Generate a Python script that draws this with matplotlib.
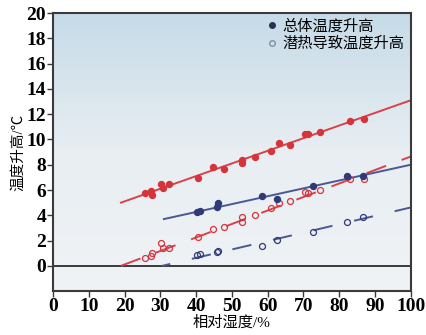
import numpy as np
import matplotlib
matplotlib.use("Agg")
import matplotlib.pyplot as plt
from matplotlib.colors import LinearSegmentedColormap
from matplotlib.lines import Line2D

plt.rcParams["lines.scale_dashes"] = False

# red series (filled = total rise, open = latent-heat rise)
rh_red = [25.8, 27.4, 27.6, 30.3, 30.7, 32.4, 40.5, 44.7, 47.8, 52.7, 52.9,
          56.5, 61.0, 63.2, 66.3, 70.5, 71.3, 74.7, 83.1, 86.9]
red_total = [5.75, 5.9, 5.6, 6.5, 6.15, 6.45, 6.95, 7.8, 7.7, 8.1, 8.35,
             8.65, 9.05, 9.75, 9.6, 10.4, 10.45, 10.6, 11.45, 11.6]
red_latent = [0.6, 0.75, 1.0, 1.8, 1.4, 1.45, 2.3, 2.95, 3.1, 3.5, 3.85,
              4.05, 4.55, 4.95, 5.1, 5.85, 5.75, 6.0, 6.85, 6.9]

# blue series
rh_blue = [40.3, 41.0, 45.9, 46.0, 58.3, 62.5, 72.7, 82.2, 86.6]
blue_total = [4.25, 4.35, 4.65, 4.95, 5.5, 5.25, 6.3, 7.1, 7.1]
blue_latent = [0.85, 0.9, 1.1, 1.15, 1.6, 2.05, 2.65, 3.45, 3.9]

# fitted lines (end points)
red_fit_x = [19, 100]
red_fit_total = [5.0, 13.1]
red_fit_latent = [0.0, 8.65]
blue_fit_x = [31, 100]
blue_fit_total = [3.7, 8.0]
blue_fit_lat_x = [30.5, 100]
blue_fit_latent = [0.0, 4.62]

red = "#d6333b"
red_line = "#dc4048"
blue = "#2f3a78"
blue_line = "#4a5896"

cjk = ["Liberation Serif", "Noto Sans CJK SC"]

fig = plt.figure(figsize=(4.27, 3.35), dpi=100)
ax = fig.add_axes([0.124, 0.131, 0.838, 0.830])

# background gradient
cmap = LinearSegmentedColormap.from_list(
    "bg", ["#f0f3f6", "#e8eef2", "#c6dbe8"])
grad = np.linspace(0, 1, 256).reshape(-1, 1)
ax.imshow(grad, extent=[0, 100, -2, 20], origin="lower", aspect="auto",
          cmap=cmap, zorder=0)

ax.axhline(0, color="#3a3a3a", lw=1.4, zorder=1)

ax.plot(red_fit_x, red_fit_total, color=red_line, lw=1.4, zorder=2)
ax.plot(red_fit_x, red_fit_latent, color=red_line, lw=1.4,
        linestyle=(0, (15, 12)), zorder=2)
ax.plot(blue_fit_x, blue_fit_total, color=blue_line, lw=1.4, zorder=2)
ax.plot(blue_fit_lat_x, blue_fit_latent, color=blue_line, lw=1.4,
        linestyle=(8, (14, 16)), zorder=2)

ax.plot(rh_red, red_total, "o", color=red, ms=4.3, zorder=3)
ax.plot(rh_red, red_latent, "o", mfc="none", mec=red, mew=0.9, ms=4.3,
        zorder=3)
ax.plot(rh_blue, blue_total, "o", color=blue, ms=4.3, zorder=3)
ax.plot(rh_blue, blue_latent, "o", mfc="none", mec=blue, mew=0.9, ms=4.3,
        zorder=3)

ax.set_xlim(0, 100)
ax.set_ylim(-2, 20)
ax.set_xticks(range(0, 101, 10))
ax.set_yticks(range(0, 21, 2))
for lab in ax.get_xticklabels() + ax.get_yticklabels():
    lab.set_family("Liberation Serif")
    lab.set_weight("bold")
    lab.set_fontsize(14)
ax.tick_params(length=4, width=1.0, color="#3a3a3a", pad=1)
for s in ax.spines.values():
    s.set_color("#3a3a3a")
    s.set_linewidth(1.5)

ax.set_xlabel("相对湿度/%", family=cjk, fontsize=11, weight="medium",
              labelpad=0)
ax.set_ylabel("温度升高/℃", family=cjk, fontsize=10.5, weight="medium",
              labelpad=1)

handles = [
    Line2D([], [], ls="none", marker="o", color="#2a3050", ms=4),
    Line2D([], [], ls="none", marker="o", mfc="none", mec="#8090a0", ms=4,
           mew=1.0),
]
ax.legend(handles, ["总体温度升高", "潜热导致温度升高"], loc="upper right",
          frameon=False, prop={"family": cjk, "size": 11, "weight": "medium"},
          handletextpad=0.1, handlelength=1.2, labelspacing=0.2,
          borderaxespad=0.2, borderpad=0.2)

fig.savefig("out.png", dpi=100)
